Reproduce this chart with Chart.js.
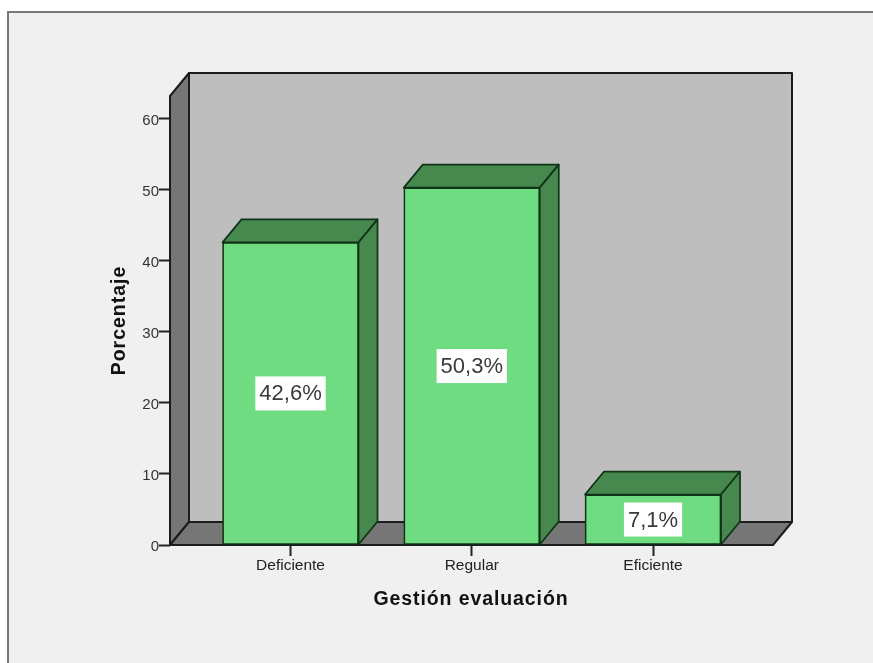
<!DOCTYPE html>
<html>
<head>
<meta charset="utf-8">
<title>Gestión evaluación</title>
<script src="https://cdn.jsdelivr.net/npm/chart.js@4/dist/chart.umd.min.js"></script>
<style>
  html, body { margin: 0; padding: 0; background: #fff; }
  #wrap { width: 873px; height: 663px; }
  canvas { display: block; }
</style>
</head>
<body>
<div id="wrap"><canvas id="grafico" width="873" height="663"></canvas></div>
<script>
const categorias = ['Deficiente', 'Regular', 'Eficiente'];
const porcentajes = [42.6, 50.3, 7.1];
const posiciones = [0, 1, 2];
const marcasY = [0, 10, 20, 30, 40, 50, 60];
const tituloX = 'Gestión evaluación';
const tituloY = 'Porcentaje';

const PROF_X = 19, PROF_Y = 23;
const FUENTE = '"Liberation Sans", Arial, sans-serif';

function poly(ctx, pts, fill, stroke, lw) {
  ctx.beginPath();
  pts.forEach((p, i) => i ? ctx.lineTo(p[0], p[1]) : ctx.moveTo(p[0], p[1]));
  ctx.closePath();
  ctx.fillStyle = fill;
  ctx.fill();
  ctx.lineWidth = lw;
  ctx.strokeStyle = stroke;
  ctx.lineJoin = 'round';
  ctx.stroke();
}

// marco, paredes y suelo de la caja, y las caras laterales de cada barra
const caja3d = {
  id: 'caja3d',
  beforeDraw(chart) {
    const ctx = chart.ctx;
    ctx.save();
    ctx.fillStyle = '#ffffff';
    ctx.fillRect(0, 0, chart.width, chart.height);
    ctx.fillStyle = '#f0f0f0';
    ctx.fillRect(8, 12, chart.width - 8, chart.height - 12);
    ctx.strokeStyle = '#777777';
    ctx.lineWidth = 2;
    ctx.beginPath();
    ctx.moveTo(8, chart.height);
    ctx.lineTo(8, 12);
    ctx.lineTo(chart.width, 12);
    ctx.stroke();
    ctx.restore();
  },
  beforeDatasetsDraw(chart) {
    const ctx = chart.ctx;
    const { left, right, top, bottom } = chart.chartArea;
    const dx = PROF_X, dy = PROF_Y;
    ctx.save();
    const borde = '#1c1c1c';
    poly(ctx, [[left + dx, top - dy], [right + dx, top - dy], [right + dx, bottom - dy], [left + dx, bottom - dy]], '#bebebe', borde, 2);
    poly(ctx, [[left, top], [left + dx, top - dy], [left + dx, bottom - dy], [left, bottom]], '#767676', borde, 2);
    poly(ctx, [[left, bottom], [left + dx, bottom - dy], [right + dx, bottom - dy], [right, bottom]], '#767676', borde, 2);

    chart.getDatasetMeta(0).data.forEach(bar => {
      const x0 = bar.x - bar.width / 2, x1 = bar.x + bar.width / 2;
      const yt = bar.y, yb = bar.base;
      const verde = '#47884f', bordeV = '#0f3315';
      poly(ctx, [[x0, yt], [x0 + dx, yt - dy], [x1 + dx, yt - dy], [x1, yt]], verde, bordeV, 1.7);
      poly(ctx, [[x1, yt], [x1 + dx, yt - dy], [x1 + dx, yb - dy], [x1, yb]], verde, bordeV, 1.7);
    });
    ctx.restore();
  },
  afterDatasetsDraw(chart) {
    const ctx = chart.ctx;
    ctx.save();
    ctx.font = '22px ' + FUENTE;
    ctx.textAlign = 'center';
    ctx.textBaseline = 'middle';
    chart.getDatasetMeta(0).data.forEach((bar, i) => {
      const txt = porcentajes[i].toFixed(1).replace('.', ',') + '%';
      const w = ctx.measureText(txt).width + 8;
      const cy = (bar.y + bar.base) / 2;
      ctx.fillStyle = '#ffffff';
      ctx.fillRect(bar.x - w / 2, cy - 17, w, 34);
      ctx.fillStyle = '#3a3a3a';
      ctx.fillText(txt, bar.x, cy + 1);
    });
    ctx.restore();
  },
  // los titulos van aqui porque necesitan espaciado entre letras
  afterDraw(chart) {
    const ctx = chart.ctx;
    const { left, right, top, bottom } = chart.chartArea;
    ctx.save();
    ctx.font = 'bold 19.5px ' + FUENTE;
    ctx.fillStyle = '#111111';
    ctx.textAlign = 'center';
    ctx.textBaseline = 'alphabetic';
    ctx.letterSpacing = '0.9px';
    ctx.fillText(tituloX, (left + right) / 2 - 0.5, bottom + 60);
    ctx.translate(left - 45, (top + bottom) / 2);
    ctx.rotate(-Math.PI / 2);
    ctx.letterSpacing = '1px';
    ctx.fillText(tituloY, 0, 0);
    ctx.restore();
  }
};

new Chart('grafico', {
  type: 'bar',
  data: {
    datasets: [{
      data: posiciones.map((p, i) => ({ x: p, y: porcentajes[i] })),
      backgroundColor: '#6fdc82',
      borderColor: '#0f3315',
      borderWidth: 1.7,
      borderSkipped: false,
      barThickness: 136
    }]
  },
  options: {
    responsive: false,
    animation: false,
    layout: { padding: { top: 96, right: 100, left: 0, bottom: 0 } },
    plugins: { legend: { display: false }, tooltip: { enabled: false } },
    scales: {
      x: {
        type: 'linear',
        offset: false,
        min: -0.665,
        max: 2.662,
        afterBuildTicks: s => { s.ticks = posiciones.map(v => ({ value: v })); },
        afterFit: s => { s.height = 118; },
        border: { display: false },
        grid: { offset: false, drawOnChartArea: false, tickLength: 11, tickColor: '#222', tickWidth: 2 },
        ticks: {
          autoSkip: false, maxRotation: 0, padding: 0,
          color: '#222', font: { family: FUENTE, size: 15.5 },
          callback: v => categorias[v]
        }
      },
      y: {
        min: 0,
        max: 63.2,
        afterBuildTicks: s => { s.ticks = marcasY.map(v => ({ value: v })); },
        afterFit: s => { s.width = 170; },
        border: { display: false },
        grid: { drawOnChartArea: false, tickLength: 11, tickColor: '#222', tickWidth: 2 },
        ticks: {
          padding: 0, labelOffset: 2,
          color: '#333', font: { family: FUENTE, size: 15 }
        }
      }
    }
  },
  plugins: [caja3d]
});
</script>
</body>
</html>
